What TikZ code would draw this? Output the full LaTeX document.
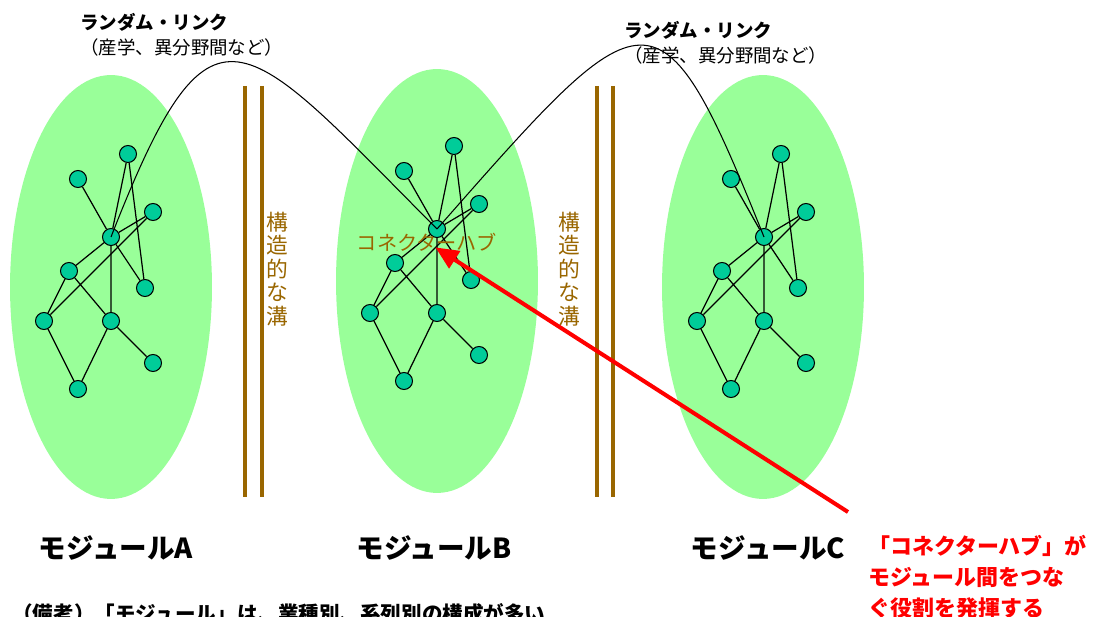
\documentclass[tikz,border=0pt]{standalone}
\usepackage{fontspec}
\setmainfont{Noto Sans CJK JP}
\usetikzlibrary{arrows.meta,shapes.geometric}
\definecolor{leaf}{HTML}{99FF99}
\definecolor{dotgreen}{HTML}{00CC99}
\definecolor{groove}{HTML}{996600}
\definecolor{alert}{HTML}{FF0000}

\begin{document}
\begin{tikzpicture}[x=0.02cm,y=-0.02cm,module/.style={ellipse,fill=leaf,minimum width=4.04cm,minimum height=8.48cm,inner sep=0pt},dot/.style={circle,draw=black,line width=0.6pt,fill=dotgreen,minimum size=3.4mm,inner sep=0pt},edge/.style={line width=0.7pt},link/.style={line width=0.6pt},trench/.style={draw=groove,line width=2.3pt},groovetxt/.style={text=groove,align=center,inner sep=0pt,font=\fontsize{12.4}{13.3}\selectfont},modlabel/.style={font=\fontsize{15.7}{18}\selectfont\bfseries},callout/.style={-{Triangle[length=4.6mm,width=4mm]},draw=alert,line width=2.3pt}]
\useasboundingbox (0,0) rectangle (1094,617);
\node[module] (modA) at (111,287) {};
\node[module] (modB) at (437,281) {};
\node[module] (modC) at (763,287) {};
\draw[trench] (245,86) -- (245,497) (262,86) -- (262,497);
\draw[trench] (597,86) -- (597,497) (613,86) -- (613,497);
\node[groovetxt] (grooveAB) at (277,269) {構\\造\\的\\な\\溝};
\node[groovetxt] (grooveBC) at (569,269) {構\\造\\的\\な\\溝};
\foreach \m/\hx/\hy in {A/111/237,B/437/229,C/764/237}{
\begin{scope}[shift={(\hx,\hy)}]
\node[dot] (\m0) at (0,0) {};
\node[dot] (\m1) at (17,-83) {};
\node[dot] (\m2) at (-33,-58) {};
\node[dot] (\m3) at (42,-25) {};
\node[dot] (\m5) at (-42,34) {};
\node[dot] (\m6) at (34,51) {};
\node[dot] (\m7) at (-67,84) {};
\node[dot] (\m8) at (0,84) {};
\node[dot] (\m9) at (42,126) {};
\node[dot] (\m10) at (-33,152) {};
\end{scope}
\draw[edge] (\m1) -- (\m0) (\m1) -- (\m6) (\m2) -- (\m0) (\m0) -- (\m3) (\m0) -- (\m5) (\m0) -- (\m6) (\m0) -- (\m8);
\draw[edge] (\m3) -- (\m7) (\m5) -- (\m7) (\m5) -- (\m8) (\m7) -- (\m10) (\m8) -- (\m10) (\m8) -- (\m9);
}
\node[text=groove,inner sep=0pt,font=\fontsize{11.5}{13}\selectfont] (hubtxt) at (427,242) {コネクターハブ};
\draw[link] (A0.center) .. controls (212,-21) and (240,31) .. (B0.center);
\draw[link] (B0.center) .. controls (647,-10) and (659,-25) .. (C0.center);
\node[anchor=west,align=left,inner sep=0pt,font=\fontsize{10.5}{14.2}\selectfont] (rlAB) at (80,35) {{\bfseries ランダム・リンク}\\（産学、異分野間など）};
\node[anchor=west,align=left,inner sep=0pt,font=\fontsize{10.5}{14.2}\selectfont] (rlBC) at (624,43) {{\bfseries ランダム・リンク}\\（産学、異分野間など）};
\node[modlabel] (labA) at (116,548) {モジュールA};
\node[modlabel] (labB) at (434,548) {モジュールB};
\node[modlabel] (labC) at (768,548) {モジュールC};
\node[anchor=west,align=left,inner sep=0pt,text=alert,font=\fontsize{12.5}{17.6}\selectfont\bfseries] (note) at (868,577) {「コネクターハブ」が\\モジュール間をつな\\ぐ役割を発揮する};
\coordinate (tail) at (848,512);
\draw[callout,shorten >=0.2cm] (tail) -- (hubtxt.center);
\node[anchor=west,inner sep=0pt,font=\fontsize{11.7}{14}\selectfont\bfseries] (remark) at (12,614) {（備考）「モジュール」は、業種別、系列別の構成が多い};
\end{tikzpicture}
\end{document}
